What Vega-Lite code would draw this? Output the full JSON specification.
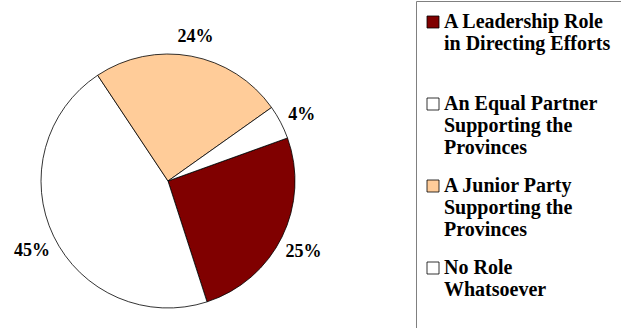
{
  "$schema": "https://vega.github.io/schema/vega-lite/v6.json",
  "width": 254,
  "height": 254,
  "autosize": {"type": "none"},
  "padding": {"left": 41, "top": 54, "right": 326, "bottom": 20},
  "background": "white",
  "config": {"view": {"stroke": null}},
  "data": {
    "values": [
      {"category": "A Leadership Role in Directing Efforts", "value": 25.4, "label": "25%", "ord": 1},
      {"category": "No Role Whatsoever", "value": 45.4, "label": "45%", "ord": 2},
      {"category": "A Junior Party Supporting the Provinces", "value": 24.4, "label": "24%", "ord": 3},
      {"category": "An Equal Partner Supporting the Provinces", "value": 4.3, "label": "4%", "ord": 4}
    ]
  },
  "encoding": {
    "theta": {"field": "value", "type": "quantitative", "stack": true, "scale": {"range": [1.2252, 7.5084]}},
    "order": {"field": "ord", "type": "quantitative"}
  },
  "layer": [
    {
      "mark": {"type": "arc", "stroke": "black", "strokeWidth": 0.8},
      "encoding": {
        "color": {
          "field": "category",
          "type": "nominal",
          "scale": {
            "domain": ["A Leadership Role in Directing Efforts", "An Equal Partner Supporting the Provinces", "A Junior Party Supporting the Provinces", "No Role Whatsoever"],
            "range": ["#800000", "#FFFFFF", "#FFCC99", "#FFFFFF"]
          },
          "legend": {
            "title": null,
            "orient": "none",
            "legendX": 375,
            "legendY": -53,
            "symbolType": "square",
            "symbolSize": 144,
            "symbolStrokeColor": "black",
            "symbolStrokeWidth": 0.8,
            "symbolOpacity": 1,
            "symbolOffset": -4,
            "labelFont": "Times New Roman, Liberation Serif, serif",
            "labelFontWeight": "bold",
            "labelFontSize": 20,
            "labelColor": "black",
            "labelLimit": 400,
            "labelBaseline": "middle",
            "labelOffset": 1,
            "padding": 11,
            "strokeColor": "#808080",
            "rowPadding": 18,
            "labelExpr": "datum.label == 'A Leadership Role in Directing Efforts' ? ['A Leadership Role', 'in Directing Efforts', ' '] : datum.label == 'An Equal Partner Supporting the Provinces' ? ['An Equal Partner', 'Supporting the', 'Provinces'] : datum.label == 'A Junior Party Supporting the Provinces' ? ['A Junior Party', 'Supporting the', 'Provinces'] : ['No Role', 'Whatsoever', ' ']"
          }
        }
      }
    },
    {
      "mark": {"type": "text", "radius": 151, "dy": 4, "font": "Times New Roman, Liberation Serif, serif", "fontWeight": "bold", "fontSize": 18, "color": "black"},
      "encoding": {"text": {"field": "label", "type": "nominal"}}
    }
  ]
}
